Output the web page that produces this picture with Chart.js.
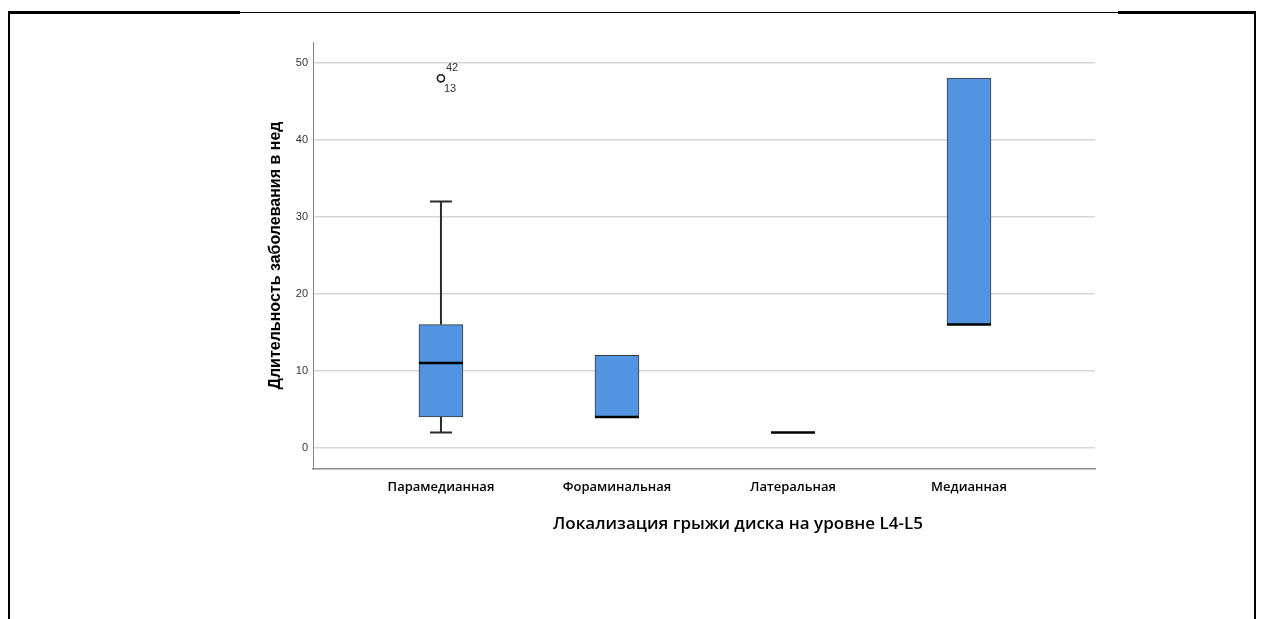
<!DOCTYPE html>
<html>
<head>
<meta charset="utf-8">
<script src="https://cdn.jsdelivr.net/npm/chart.js@4.4.1/dist/chart.umd.min.js"></script>
<style>
  html, body { margin: 0; padding: 0; background: #fff; }
  #wrap { position: relative; width: 1261px; height: 619px; overflow: hidden; }
  canvas { position: absolute; left: 0; top: 0; }
  .ln { position: absolute; background: #000; }
</style>
</head>
<body>
<div id="wrap">
  <canvas id="c" width="1261" height="619"></canvas>
  <div class="ln" style="left:8px; top:12px; width:1248px; height:1px;"></div>
  <div class="ln" style="left:8px; top:11px; width:232px; height:3px;"></div>
  <div class="ln" style="left:1118px; top:11px; width:138px; height:3px;"></div>
  <div class="ln" style="left:8px; top:12px; width:2px; height:607px;"></div>
  <div class="ln" style="left:1254px; top:12px; width:2px; height:607px;"></div>
</div>
<script>
// Duration of illness (weeks) by L4-L5 disc herniation location
const categories = ['Парамедианная', 'Фораминальная', 'Латеральная', 'Медианная'];
const whiskerLow  = [2, 4, 2, 16];
const quartile1   = [4, 4, 2, 16];
const medians     = [11, 4, 2, 16];
const quartile3   = [16, 12, 2, 48];
const whiskerHigh = [32, 12, 2, 48];
const outlierCategory = [0, 0];
const outlierValues   = [48, 48];
const outlierCases    = ['42', '13'];
const yTicks = [0, 10, 20, 30, 40, 50];

const yTitle = 'Длительность заболевания в нед';
const xTitle = 'Локализация грыжи диска на уровне L4-L5';

const BOX_W = 44;
const CAP_W = 22;

const boxData = categories.map((_, i) => ({ x: i + 1, y: [quartile1[i], quartile3[i]] }));
const outlierData = outlierValues.map((v, k) => ({ x: outlierCategory[k] + 1, y: v }));

const boxPlotPlugin = {
  id: 'boxPlotParts',
  afterDatasetsDraw(chart) {
    const { ctx, scales: { x, y } } = chart;
    ctx.save();
    categories.forEach((_, i) => {
      const cx = x.getPixelForValue(i + 1);
      const yLo = y.getPixelForValue(whiskerLow[i]);
      const yQ1 = y.getPixelForValue(quartile1[i]);
      const yQ3 = y.getPixelForValue(quartile3[i]);
      const yHi = y.getPixelForValue(whiskerHigh[i]);
      const yMed = y.getPixelForValue(medians[i]);
      ctx.strokeStyle = '#2b2b2b';
      ctx.lineWidth = 2;
      ctx.lineCap = 'butt';
      if (whiskerHigh[i] > quartile3[i]) {
        ctx.beginPath();
        ctx.moveTo(cx, yQ3); ctx.lineTo(cx, yHi);
        ctx.moveTo(cx - CAP_W / 2, yHi); ctx.lineTo(cx + CAP_W / 2, yHi);
        ctx.stroke();
      }
      if (whiskerLow[i] < quartile1[i]) {
        ctx.beginPath();
        ctx.moveTo(cx, yQ1); ctx.lineTo(cx, yLo);
        ctx.moveTo(cx - CAP_W / 2, yLo); ctx.lineTo(cx + CAP_W / 2, yLo);
        ctx.stroke();
      }
      // median
      ctx.strokeStyle = '#000';
      ctx.lineWidth = 2.5;
      ctx.beginPath();
      ctx.moveTo(cx - BOX_W / 2, yMed); ctx.lineTo(cx + BOX_W / 2, yMed);
      ctx.stroke();
    });
    // case numbers next to outliers
    ctx.fillStyle = '#333';
    ctx.font = '11px "Liberation Sans", Arial, sans-serif';
    ctx.textBaseline = 'middle';
    ctx.textAlign = 'left';
    outlierValues.forEach((v, k) => {
      const px = x.getPixelForValue(outlierCategory[k] + 1);
      const py = y.getPixelForValue(v);
      const dy = k === 0 ? -10 : 11;
      const dx = k === 0 ? 5 : 3;
      ctx.fillText(outlierCases[k], px + dx, py + dy);
    });
    ctx.restore();
  },
  afterDraw(chart) {
    const { ctx, chartArea } = chart;
    ctx.save();
    ctx.fillStyle = '#000';
    ctx.font = '600 17px "Open Sans", "Noto Sans", sans-serif';
    ctx.textAlign = 'center';
    ctx.textBaseline = 'middle';
    ctx.fillText(xTitle, chartArea.left + 425, chartArea.bottom + 55);
    ctx.restore();
  }
};

new Chart(document.getElementById('c'), {
  type: 'bar',
  data: {
    datasets: [
      {
        type: 'bar',
        data: boxData,
        backgroundColor: 'rgb(82,148,226)',
        borderColor: '#3a3a3a',
        borderWidth: 1,
        borderSkipped: false,
        barThickness: BOX_W,
        order: 2
      },
      {
        type: 'scatter',
        data: outlierData,
        pointStyle: 'circle',
        pointRadius: 3.5,
        pointBackgroundColor: '#fff',
        pointBorderColor: '#222',
        pointBorderWidth: 1.5,
        order: 1
      }
    ]
  },
  options: {
    responsive: false,
    animation: false,
    devicePixelRatio: 1,
    layout: { padding: { left: 258, top: 42, right: 166, bottom: 0 } },
    plugins: { legend: { display: false }, tooltip: { enabled: false } },
    scales: {
      x: {
        type: 'linear',
        offset: false,
        min: 0.273,
        max: 4.716,
        afterBuildTicks(scale) { scale.ticks = categories.map((_, i) => ({ value: i + 1 })); },
        afterFit(scale) { scale.height = 150; },
        grid: { display: false, drawTicks: false },
        border: { display: true, color: '#888', width: 1.5 },
        ticks: {
          padding: 10,
          color: '#000',
          maxRotation: 0,
          font: { family: '"Open Sans", "Noto Sans", sans-serif', size: 13, weight: '600' },
          callback: (v) => categories[v - 1] || ''
        }
      },
      y: {
        min: -2.75,
        max: 52.7,
        afterBuildTicks(scale) { scale.ticks = yTicks.map(v => ({ value: v })); },
        afterFit(scale) { scale.width = 55; },
        grid: { color: '#d6d6d6', lineWidth: 1.5, drawTicks: false },
        border: { display: true, color: '#888', width: 1 },
        ticks: {
          padding: 5,
          color: '#333',
          font: { family: '"Liberation Sans", Arial, sans-serif', size: 11 }
        },
        title: {
          display: true,
          text: yTitle,
          color: '#000',
          padding: { top: 8, bottom: 0 },
          font: { family: '"Liberation Sans", Arial, sans-serif', size: 16, weight: 'bold' }
        }
      }
    }
  },
  plugins: [boxPlotPlugin]
});
</script>
</body>
</html>
